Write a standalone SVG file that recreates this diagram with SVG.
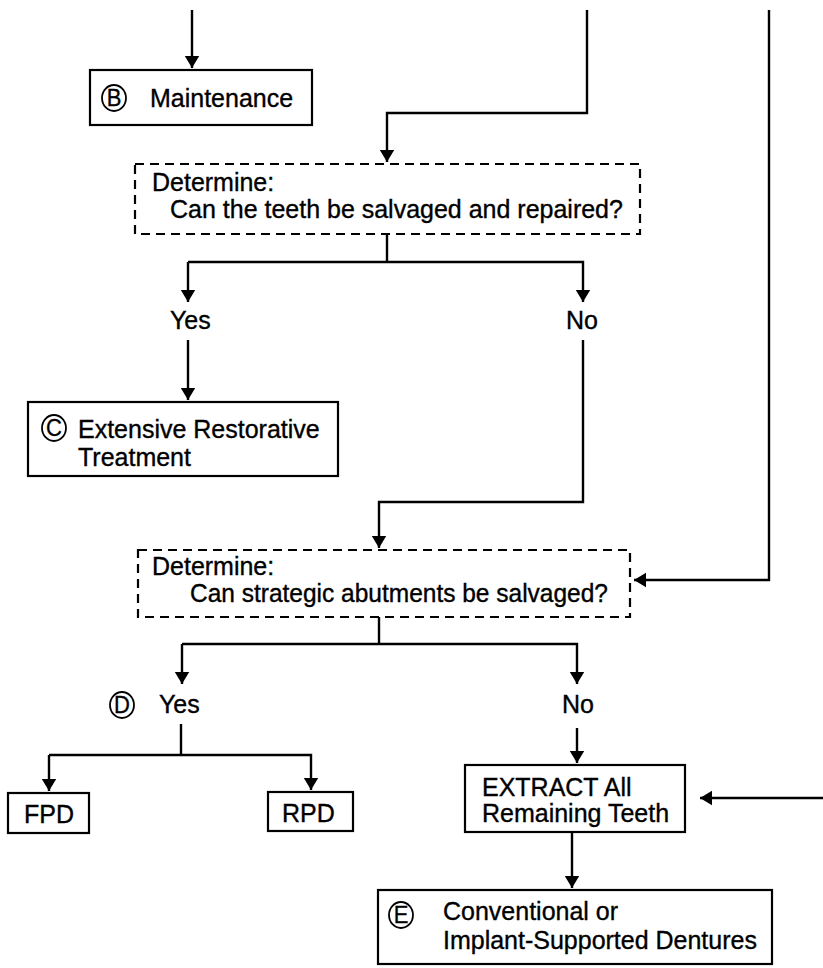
<svg xmlns="http://www.w3.org/2000/svg" width="823" height="968" viewBox="0 0 823 968">
  <style>
    .box { fill: #fff; stroke: #000; stroke-width: 2.2; }
    .dash { fill: #fff; stroke: #000; stroke-width: 2.2; stroke-dasharray: 9 6; }
    .line { fill: none; stroke: #000; stroke-width: 2.4; }
    .arrow { fill: none; stroke: #000; stroke-width: 2.4; marker-end: url(#head); }
    .t { font-family: "Liberation Sans", Arial, sans-serif; font-size: 25px; fill: #000; stroke: #000; stroke-width: 0.35; }
    .badge { fill: none; stroke: #000; stroke-width: 1.8; }
    .bl { font-family: "Liberation Sans", Arial, sans-serif; font-size: 22px; fill: #000; stroke: #000; stroke-width: 0.3; text-anchor: middle; }
  </style>
  <defs>
    <marker id="head" viewBox="0 0 10 16" refX="10" refY="8" markerWidth="5" markerHeight="8" orient="auto" markerUnits="strokeWidth">
      <path d="M0,2 L10,8 L0,14 Z" fill="#000"/>
    </marker>
  </defs>
  <rect width="823" height="968" fill="#fff"/>

  <g id="connectors">
    <!-- into Maintenance -->
    <path class="arrow" d="M192,10 V68"/>
    <!-- top entry into first decision -->
    <path class="arrow" d="M587,10 V113 H387 V162"/>
    <!-- first decision split -->
    <path class="line" d="M387,234 V262"/>
    <path class="arrow" d="M188,262 H583 V302"/>
    <path class="arrow" d="M188,262 V302"/>
    <!-- Yes to C -->
    <path class="arrow" d="M188,340 V400"/>
    <!-- No to second decision -->
    <path class="arrow" d="M583,340 V502 H379 V548"/>
    <!-- long right feed into second decision -->
    <path class="arrow" d="M769,10 V580 H634"/>
    <!-- second decision split -->
    <path class="line" d="M379,617 V644"/>
    <path class="arrow" d="M182,644 H577 V684"/>
    <path class="arrow" d="M182,644 V684"/>
    <!-- D Yes split -->
    <path class="line" d="M181,724 V755"/>
    <path class="arrow" d="M49,755 H311 V790"/>
    <path class="arrow" d="M49,755 V791"/>
    <!-- No to EXTRACT -->
    <path class="arrow" d="M577,728 V763"/>
    <!-- right feed into EXTRACT -->
    <path class="arrow" d="M823,798 H700"/>
    <!-- EXTRACT to E -->
    <path class="arrow" d="M572,832 V888"/>
  </g>

  <g id="maintenance">
    <rect class="box" x="90" y="70" width="222" height="55"/>
    <ellipse class="badge" cx="114" cy="98" rx="12" ry="13"/>
    <text class="bl" transform="translate(114,106) scale(1,1.06)">B</text>
    <text class="t" transform="translate(150,107) scale(1,1.06)">Maintenance</text>
  </g>

  <g id="decision-teeth">
    <rect class="dash" x="135" y="164" width="505" height="70"/>
    <text class="t" transform="translate(152,191) scale(1,1.06)">Determine:</text>
    <text class="t" transform="translate(170,218) scale(1,1.06)">Can the teeth be salvaged and repaired?</text>
  </g>

  <g id="yes-1"><text class="t" transform="translate(170,329) scale(1,1.06)">Yes</text></g>
  <g id="no-1"><text class="t" transform="translate(566,329) scale(1,1.06)">No</text></g>

  <g id="restorative">
    <rect class="box" x="28" y="402" width="310" height="74"/>
    <ellipse class="badge" cx="54" cy="428" rx="12" ry="13"/>
    <text class="bl" transform="translate(54,436) scale(1,1.06)">C</text>
    <text class="t" transform="translate(78,438) scale(1,1.06)">Extensive Restorative</text>
    <text class="t" transform="translate(78,466) scale(1,1.06)">Treatment</text>
  </g>

  <g id="decision-abutments">
    <rect class="dash" x="138" y="550" width="492" height="67"/>
    <text class="t" transform="translate(152,575) scale(1,1.06)">Determine:</text>
    <text class="t" style="font-size:24.5px" transform="translate(190,602) scale(1,1.06)">Can strategic abutments be salvaged?</text>
  </g>

  <g id="yes-2">
    <ellipse class="badge" cx="122" cy="705" rx="12" ry="13"/>
    <text class="bl" transform="translate(122,713) scale(1,1.06)">D</text>
    <text class="t" transform="translate(159,713) scale(1,1.06)">Yes</text>
  </g>
  <g id="no-2"><text class="t" transform="translate(562,713) scale(1,1.06)">No</text></g>

  <g id="fpd">
    <rect class="box" x="8" y="793" width="81" height="40"/>
    <text class="t" transform="translate(24,823) scale(1,1.06)">FPD</text>
  </g>
  <g id="rpd">
    <rect class="box" x="268" y="792" width="85" height="39"/>
    <text class="t" transform="translate(282,822) scale(1,1.06)">RPD</text>
  </g>

  <g id="extract">
    <rect class="box" x="465" y="765" width="220" height="67"/>
    <text class="t" transform="translate(482,796) scale(1,1.06)">EXTRACT All</text>
    <text class="t" transform="translate(482,822) scale(1,1.06)">Remaining Teeth</text>
  </g>

  <g id="dentures">
    <rect class="box" x="378" y="890" width="394" height="74"/>
    <ellipse class="badge" cx="401" cy="915" rx="12" ry="13"/>
    <text class="bl" transform="translate(401,923) scale(1,1.06)">E</text>
    <text class="t" transform="translate(443,920) scale(1,1.06)">Conventional or</text>
    <text class="t" transform="translate(443,949) scale(1,1.06)">Implant-Supported Dentures</text>
  </g>
</svg>
